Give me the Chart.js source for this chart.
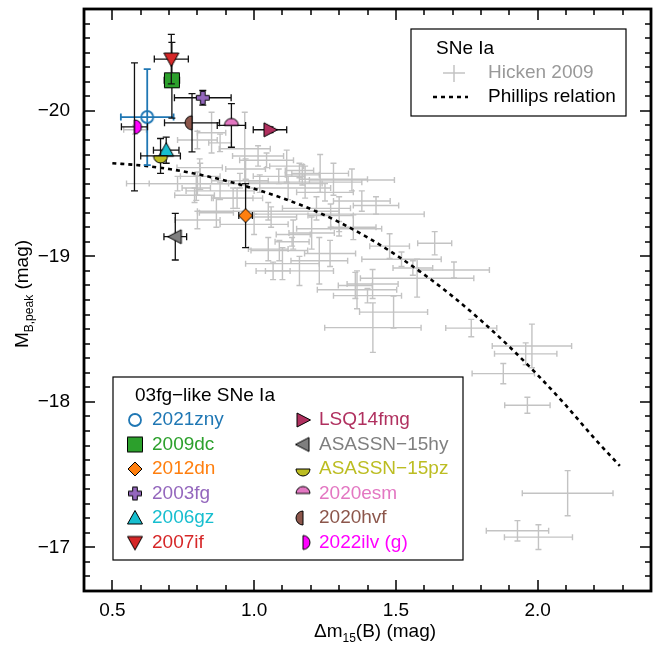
<!doctype html>
<html lang="en">
<head>
  <meta charset="utf-8">
  <title>03fg-like SNe Ia — Phillips relation</title>
  <script src="https://cdn.jsdelivr.net/npm/chart.js@4"></script>
  <style>
    html, body { margin: 0; padding: 0; background: #fff; }
    #wrap { width: 670px; height: 648px; }
  </style>
</head>
<body>
<div id="wrap">
  <canvas id="chart" width="670" height="648"></canvas>
</div>
<script>
  // axis ticks
  const xTickValues = [0.5, 1.0, 1.5, 2.0]
  const yTickValues = [-20, -19, -18, -17]

  // Hicken 2009 comparison sample (dm15, M_B, errors)
  const hickenX    = [0.58, 0.80, 0.85, 0.88, 0.967, 1.014, 1.044, 1.115, 1.233, 1.28, 0.80, 1.087, 1.16, 1.18, 1.345, 0.926, 1.06, 1.203, 1.05, 1.089, 1.10, 1.138, 1.134, 1.23, 1.268, 1.478, 1.637, 1.705, 1.575, 1.418, 1.492, 1.419, 1.766, 1.98, 1.958, 1.879, 1.964, 2.106, 1.929, 2.003, 1.363, 0.80, 0.79, 0.867, 1.16, 1.067, 0.94, 0.81, 0.97, 1.17, 1.22, 1.27, 1.30, 1.35, 1.56, 1.357, 0.808, 0.796, 1.05, 0.73, 1.40, 1.43, 1.52, 1.30, 1.02, 1.12, 1.25, 0.95, 1.38, 0.88, 1.00]
  const hickenY    = [-19.87, -19.80, -19.85, -19.78, -19.74, -19.69, -19.66, -19.62, -19.57, -19.53, -19.50, -19.55, -19.59, -19.51, -19.525, -19.40, -19.27, -19.16, -19.05, -19.04, -18.95, -19.15, -19.10, -18.97, -19.02, -19.07, -19.09, -18.906, -18.85, -18.81, -18.617, -18.51, -18.507, -18.384, -18.33, -18.194, -17.977, -17.372, -17.114, -17.07, -18.77, -19.25, -19.42, -19.30, -18.90, -18.90, -19.40, -19.55, -19.60, -19.56, -19.33, -19.28, -19.29, -19.20, -18.92, -18.80, -19.61, -19.47, -19.31, -19.50, -18.73, -19.35, -18.98, -19.19, -19.50, -19.47, -19.44, -19.52, -19.38, -19.45, -19.22]
  const hickenXerr = [0.04, 0.07, 0.05, 0.04, 0.09, 0.09, 0.095, 0.06, 0.10, 0.12, 0.17, 0.09, 0.05, 0.20, 0.15, 0.07, 0.09, 0.08, 0.07, 0.10, 0.13, 0.06, 0.06, 0.10, 0.09, 0.07, 0.06, 0.125, 0.20, 0.09, 0.12, 0.17, 0.09, 0.14, 0.11, 0.11, 0.08, 0.16, 0.11, 0.12, 0.14, 0.08, 0.07, 0.06, 0.12, 0.06, 0.09, 0.07, 0.07, 0.06, 0.12, 0.08, 0.30, 0.08, 0.07, 0.06, 0.08, 0.05, 0.25, 0.18, 0.12, 0.08, 0.14, 0.15, 0.22, 0.15, 0.10, 0.10, 0.10, 0.12, 0.12]
  const hickenYerr = [0.03, 0.06, 0.14, 0.06, 0.25, 0.07, 0.05, 0.11, 0.13, 0.11, 0.08, 0.05, 0.05, 0.11, 0.075, 0.07, 0.07, 0.11, 0.08, 0.07, 0.11, 0.10, 0.03, 0.16, 0.09, 0.085, 0.08, 0.055, 0.13, 0.10, 0.11, 0.17, 0.06, 0.15, 0.075, 0.07, 0.055, 0.155, 0.07, 0.085, 0.13, 0.06, 0.05, 0.10, 0.10, 0.06, 0.07, 0.09, 0.07, 0.07, 0.08, 0.08, 0.12, 0.085, 0.05, 0.09, 0.06, 0.085, 0.06, 0.05, 0.05, 0.06, 0.05, 0.05, 0.06, 0.08, 0.06, 0.05, 0.07, 0.06, 0.07]

  // Phillips relation
  const phillipsX = [0.50, 0.60, 0.70, 0.80, 0.90, 1.00, 1.10, 1.20, 1.30, 1.40, 1.50, 1.60, 1.70, 1.80, 1.90, 2.00, 2.10, 2.20, 2.29]
  const phillipsY = [-19.64, -19.625, -19.60, -19.565, -19.52, -19.465, -19.40, -19.325, -19.235, -19.13, -19.01, -18.875, -18.725, -18.56, -18.38, -18.185, -17.975, -17.75, -17.56]

  // 03fg-like SNe Ia
  const snNames   = ['2021zny', '2009dc', '2012dn', '2003fg', '2006gz', '2007if', 'LSQ14fmg', 'ASASSN\u221215hy', 'ASASSN\u221215pz', '2020esm', '2020hvf', '2022ilv (g)']
  const snX       = [0.623, 0.71, 0.97, 0.819, 0.69, 0.708, 1.056, 0.722, 0.67, 0.92, 0.781, 0.578]
  const snY       = [-19.957, -20.21, -19.28, -20.09, -19.73, -20.356, -19.87, -19.135, -19.69, -19.90, -19.918, -19.89]
  const snXerr    = [0.093, 0.027, 0.024, 0.10, 0.045, 0.06, 0.059, 0.04, 0.07, 0.05, 0.097, 0.046]
  const snYerr    = [0.33, 0.26, 0.22, 0.05, 0.09, 0.17, 0.02, 0.16, 0.12, 0.15, 0.20, 0.44]
  const snColors  = ['#1f77b4', '#2ca02c', '#ff7f0e', '#9467bd', '#17becf', '#d62728', '#b0305f', '#7f7f7f', '#bcbd22', '#e377c2', '#8c564b', '#ff00ff']
  const snMarkers = ['circle', 'square', 'diamond', 'plus', 'triUp', 'triDown', 'triRight', 'triLeft', 'halfBottom', 'halfTop', 'halfLeft', 'halfRight']

  const FONT = "'Liberation Sans', Arial, Helvetica, sans-serif"
  Chart.defaults.font.family = FONT

  function shapePath(ctx, kind, cx, cy) {
    ctx.beginPath()
    switch (kind) {
      case 'circle': ctx.arc(cx, cy, 6, 0, 2 * Math.PI); break
      case 'square': ctx.rect(cx - 7.5, cy - 7.5, 15, 15); break
      case 'diamond':
        ctx.moveTo(cx, cy - 7); ctx.lineTo(cx + 7, cy); ctx.lineTo(cx, cy + 7); ctx.lineTo(cx - 7, cy); break
      case 'plus': {
        const a = 2.3, b = 6.5
        ctx.moveTo(cx - a, cy - b); ctx.lineTo(cx + a, cy - b); ctx.lineTo(cx + a, cy - a); ctx.lineTo(cx + b, cy - a)
        ctx.lineTo(cx + b, cy + a); ctx.lineTo(cx + a, cy + a); ctx.lineTo(cx + a, cy + b); ctx.lineTo(cx - a, cy + b)
        ctx.lineTo(cx - a, cy + a); ctx.lineTo(cx - b, cy + a); ctx.lineTo(cx - b, cy - a); ctx.lineTo(cx - a, cy - a)
        break
      }
      case 'triUp': ctx.moveTo(cx, cy - 7.5); ctx.lineTo(cx + 7.5, cy + 6); ctx.lineTo(cx - 7.5, cy + 6); break
      case 'triDown': ctx.moveTo(cx, cy + 7.5); ctx.lineTo(cx + 7.5, cy - 6); ctx.lineTo(cx - 7.5, cy - 6); break
      case 'triRight': ctx.moveTo(cx + 7.5, cy); ctx.lineTo(cx - 6, cy - 7); ctx.lineTo(cx - 6, cy + 7); break
      case 'triLeft': ctx.moveTo(cx - 7.5, cy); ctx.lineTo(cx + 6, cy - 7); ctx.lineTo(cx + 6, cy + 7); break
      case 'halfTop': ctx.arc(cx, cy, 7, Math.PI, 2 * Math.PI); break
      case 'halfBottom': ctx.arc(cx, cy, 7, 0, Math.PI); break
      case 'halfLeft': ctx.arc(cx, cy, 7, 0.5 * Math.PI, 1.5 * Math.PI); break
      case 'halfRight': ctx.arc(cx, cy, 7, -0.5 * Math.PI, 0.5 * Math.PI); break
    }
    ctx.closePath()
  }

  function makeMarker(kind, color) {
    const c = document.createElement('canvas')
    c.width = 22; c.height = 22
    const ctx = c.getContext('2d')
    shapePath(ctx, kind, 11, 11)
    if (kind === 'circle') {
      ctx.lineWidth = 1.8; ctx.strokeStyle = color; ctx.stroke()
    } else {
      ctx.fillStyle = color; ctx.fill()
      ctx.lineWidth = 1; ctx.strokeStyle = '#000'; ctx.stroke()
    }
    return c
  }

  const markerImages = snMarkers.map((m, i) => makeMarker(m, snColors[i]))

  // error bars drawn just before each dataset's own points
  const errorBars = {
    id: 'errorBars',
    beforeDatasetDraw(chart, args) {
      const ds = chart.data.datasets[args.index]
      if (!ds.errX) return
      const { ctx, scales: { x, y } } = chart
      ctx.save()
      ctx.strokeStyle = ds.errColor
      ctx.lineWidth = ds.errWidth
      const cap = ds.capHalf
      ds.data.forEach((p, i) => {
        const px = x.getPixelForValue(p.x), py = y.getPixelForValue(p.y)
        const x0 = x.getPixelForValue(p.x - ds.errX[i]), x1 = x.getPixelForValue(p.x + ds.errX[i])
        const y0 = y.getPixelForValue(p.y - ds.errY[i]), y1 = y.getPixelForValue(p.y + ds.errY[i])
        ctx.beginPath()
        ctx.moveTo(x0, py); ctx.lineTo(x1, py)
        ctx.moveTo(x0, py - cap); ctx.lineTo(x0, py + cap)
        ctx.moveTo(x1, py - cap); ctx.lineTo(x1, py + cap)
        ctx.moveTo(px, y0); ctx.lineTo(px, y1)
        ctx.moveTo(px - cap, y0); ctx.lineTo(px + cap, y0)
        ctx.moveTo(px - cap, y1); ctx.lineTo(px + cap, y1)
        ctx.stroke()
      })
      ctx.restore()
    }
  }

  function drawRich(ctx, parts, x, y) {
    // parts: [text, size, dy]
    let w = 0
    parts.forEach(([t, s]) => { ctx.font = s + 'px ' + FONT; w += ctx.measureText(t).width })
    let cx = x - w / 2
    parts.forEach(([t, s, dy]) => {
      ctx.font = s + 'px ' + FONT
      ctx.fillText(t, cx, y + dy)
      cx += ctx.measureText(t).width
    })
  }

  // frame, inward ticks, axis titles, legends
  const decor = {
    id: 'decor',
    afterDraw(chart) {
      const { ctx, chartArea: a, scales: { x, y } } = chart
      ctx.save()
      ctx.strokeStyle = '#000'
      ctx.lineWidth = 1.5
      ctx.beginPath()
      for (let v = 0.4; v <= 2.401; v += 0.1) {
        const px = Math.round(x.getPixelForValue(v))
        const major = xTickValues.some(t => Math.abs(t - v) < 1e-6)
        const len = major ? 11 : 6
        ctx.moveTo(px, a.bottom); ctx.lineTo(px, a.bottom - len)
        ctx.moveTo(px, a.top); ctx.lineTo(px, a.top + len)
      }
      for (let v = -20.7; v <= -16.699; v += 0.1) {
        const py = Math.round(y.getPixelForValue(v))
        const major = yTickValues.some(t => Math.abs(t - v) < 1e-6)
        const len = major ? 11 : 6
        ctx.moveTo(a.left, py); ctx.lineTo(a.left + len, py)
        ctx.moveTo(a.right, py); ctx.lineTo(a.right - len, py)
      }
      ctx.stroke()
      ctx.lineWidth = 2.8
      ctx.strokeRect(a.left, a.top, a.right - a.left, a.bottom - a.top)

      // axis titles
      ctx.fillStyle = '#000'
      ctx.textBaseline = 'alphabetic'
      ctx.textAlign = 'left'
      drawRich(ctx, [['\u0394m', 19, 0], ['15', 12, 5], ['(B) (mag)', 19, 0]], 375, 637)
      ctx.save()
      ctx.translate(28, 294)
      ctx.rotate(-Math.PI / 2)
      drawRich(ctx, [['M', 19, 0], ['B,peak', 12, 5], [' (mag)', 19, 0]], 0, 0)
      ctx.restore()

      // upper legend
      ctx.lineWidth = 1.2
      ctx.fillStyle = '#fff'
      ctx.fillRect(411, 29, 215, 87)
      ctx.strokeRect(411, 29, 215, 87)
      ctx.font = '19px ' + FONT
      ctx.textBaseline = 'middle'
      ctx.fillStyle = '#000'
      ctx.fillText('SNe Ia', 436, 49)
      ctx.fillStyle = '#999'
      ctx.fillText('Hicken 2009', 488, 73)
      ctx.fillStyle = '#000'
      ctx.fillText('Phillips relation', 488, 97)
      ctx.strokeStyle = '#c3c3c3'
      ctx.lineWidth = 1.5
      ctx.beginPath()
      ctx.moveTo(443, 73); ctx.lineTo(465, 73)
      ctx.moveTo(454, 65); ctx.lineTo(454, 82)
      ctx.stroke()
      ctx.strokeStyle = '#000'
      ctx.lineWidth = 2.6
      ctx.setLineDash([4, 4])
      ctx.beginPath()
      ctx.moveTo(433, 97); ctx.lineTo(468, 97)
      ctx.stroke()
      ctx.setLineDash([])

      // lower legend
      ctx.lineWidth = 1.2
      ctx.fillStyle = '#fff'
      ctx.fillRect(113, 377, 350, 183)
      ctx.strokeRect(113, 377, 350, 183)
      ctx.fillStyle = '#000'
      ctx.fillText('03fg\u2212like SNe Ia', 135, 396)
      snNames.forEach((name, i) => {
        const col = Math.floor(i / 6), row = i % 6
        const sx = col === 0 ? 135 : 303
        const tx = col === 0 ? 152 : 319
        const sy = 420 + row * 24.5
        ctx.drawImage(markerImages[i], sx - 11, sy - 11)
        ctx.fillStyle = snColors[i]
        ctx.fillText(name, tx, sy)
      })
      ctx.restore()
    }
  }

  const datasets = [
    {
      label: 'Hicken 2009',
      data: hickenX.map((v, i) => ({ x: v, y: hickenY[i] })),
      errX: hickenXerr, errY: hickenYerr,
      errColor: '#c3c3c3', errWidth: 1.4, capHalf: 3,
      pointRadius: 0,
      order: 100
    },
    {
      label: 'Phillips relation',
      data: phillipsX.map((v, i) => ({ x: v, y: phillipsY[i] })),
      showLine: true,
      borderColor: '#000',
      borderWidth: 2.6,
      borderDash: [4, 4],
      pointRadius: 0,
      cubicInterpolationMode: 'monotone',
      order: 50
    }
  ]
  snNames.forEach((name, i) => {
    datasets.push({
      label: name,
      data: [{ x: snX[i], y: snY[i] }],
      errX: [snXerr[i]], errY: [snYerr[i]],
      errColor: i === 0 ? snColors[0] : '#111', errWidth: i === 0 ? 1.8 : 1.3, capHalf: 3.5,
      pointStyle: markerImages[i],
      pointRadius: 8,
      order: 20 - i
    })
  })

  new Chart(document.getElementById('chart'), {
    type: 'scatter',
    data: { datasets },
    options: {
      responsive: false,
      animation: false,
      layout: { padding: { top: 6, right: 19, left: 0, bottom: 0 } },
      plugins: {
        legend: { display: false },
        tooltip: { enabled: false }
      },
      scales: {
        x: {
          type: 'linear',
          min: 0.4,
          max: 2.4,
          grid: { display: false },
          border: { display: false },
          afterBuildTicks: s => { s.ticks = xTickValues.map(v => ({ value: v })) },
          afterFit: s => { s.height = 57; s.paddingLeft = 0; s.paddingRight = 0 },
          ticks: {
            color: '#000',
            padding: 0,
            maxRotation: 0,
            font: { size: 19 },
            callback: v => v.toFixed(1)
          }
        },
        y: {
          type: 'linear',
          reverse: true,
          min: -20.7,
          max: -16.7,
          grid: { display: false },
          border: { display: false },
          afterBuildTicks: s => { s.ticks = yTickValues.map(v => ({ value: v })) },
          afterFit: s => { s.width = 84; s.paddingTop = 0; s.paddingBottom = 0 },
          ticks: {
            color: '#000',
            padding: 6,
            font: { size: 19 },
            callback: v => '\u2212' + Math.abs(v)
          }
        }
      }
    },
    plugins: [errorBars, decor]
  })
</script>
</body>
</html>
